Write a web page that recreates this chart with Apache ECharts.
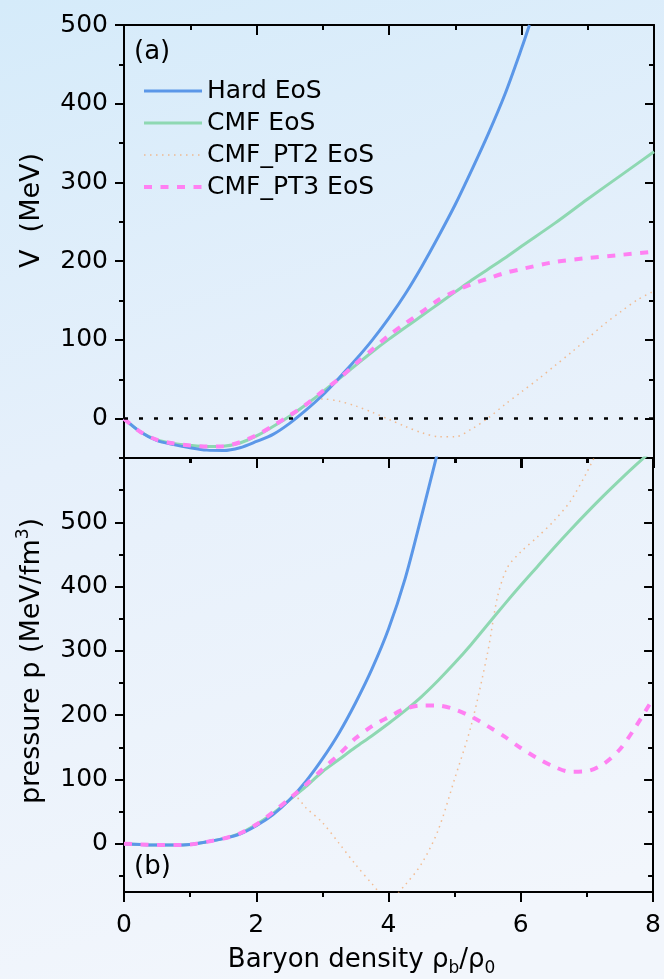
<!DOCTYPE html>
<html>
<head>
<meta charset="utf-8">
<script src="https://cdn.jsdelivr.net/npm/echarts@6.0.0/dist/echarts.min.js"></script>
<style>html,body{margin:0;padding:0;background:#e8f1fb;}#c{width:664px;height:979px;}</style>
</head>
<body>
<div id="c"></div>
<script>
// ---------- data ----------
const seriesNames = ['Hard EoS', 'CMF EoS', 'CMF_PT2 EoS', 'CMF_PT3 EoS'];
const xTickValues = [0, 2, 4, 6, 8];
const vMajorTicks = [0, 100, 200, 300, 400, 500];
const vMinorTicks = [-50, 50, 150, 250, 350, 450];
const pMajorTicks = [0, 100, 200, 300, 400, 500];
const pMinorTicks = [-50, 50, 150, 250, 350, 450, 550];

// panel (a): V (MeV)
const xHardV = [0,0.25,0.5,0.75,1,1.25,1.5,1.75,2,2.25,2.5,2.75,3,3.25,3.5,3.75,4,4.25,4.5,4.75,5,5.25,5.5,5.75,6,6.12];
const hardV  = [0,-17,-28,-33,-37,-40,-40.5,-37,-29,-20,-6,11,30,52,75,100,128,159,194,232,272,316,362,412,470,500];
const xCmfV  = [0,0.25,0.5,0.75,1,1.25,1.5,1.75,2,2.25,2.5,2.75,3,3.25,3.5,3.75,4,4.25,4.5,4.75,5,5.25,5.5,5.75,6,6.5,7,7.5,8];
const cmfV   = [0,-17,-27,-31.5,-34,-35.5,-35,-31,-22,-10,3,18,34,51,68,85,101,116,131,146,161,176,190,204,219,248,279,309,339];
const xPt3V  = [0,0.25,0.5,0.75,1,1.25,1.5,1.75,2,2.25,2.5,2.75,3,3.25,3.5,3.75,4,4.25,4.5,4.75,5,5.25,5.5,5.75,6,6.5,7,7.5,8];
const pt3V   = [0,-17,-27,-31.5,-34,-35.5,-35,-30,-21,-9,4,18,35,51,70,88,106,121,136,151,162,171,178,185,190,199,204,208,212];
const xPt2V  = [0,0.25,0.5,0.75,1,1.25,1.5,1.75,2,2.25,2.5,2.75,3,3.25,3.5,3.75,4,4.25,4.5,4.75,5,5.25,5.5,5.75,6,6.25,6.5,6.75,7,7.25,7.5,7.75,8];
const pt2V   = [0,-17,-27,-31.5,-34,-35.5,-35,-31,-22,-10,3,17,25,22,16,8,-1,-10,-18,-23,-23,-13,1,18,34,50,67,84,102,120,136,151,162];

// panel (b): pressure p (MeV/fm^3)
const xHardP = [0,0.25,0.5,0.75,1,1.25,1.5,1.75,2,2.25,2.5,2.75,3,3.25,3.5,3.75,4,4.25,4.5,4.75];
const hardP  = [0,-1,-2,-2,-1,3,8,15,28,45,68,97,132,172,219,272,334,412,510,612];
const xCmfP  = [0,0.25,0.5,0.75,1,1.25,1.5,1.75,2,2.25,2.5,2.75,3,3.25,3.5,3.75,4,4.25,4.5,4.75,5,5.25,5.5,5.75,6,6.25,6.5,6.75,7,7.25,7.5,7.75,8];
const cmfP   = [0,-1,-2,-2,-1,3,8,16,30,47,68,89,112,131,150,168,187,207,229,254,281,310,341,372,402,431,460,488,515,541,566,590,613];
const xPt3P  = [0,0.25,0.5,0.75,1,1.25,1.5,1.75,2,2.25,2.5,2.75,3,3.25,3.5,3.75,4,4.25,4.5,4.75,5,5.25,5.5,5.75,6,6.25,6.5,6.75,7,7.25,7.5,7.75,8];
const pt3P   = [0,-1,-2,-2,-1,3,8,16,30,49,70,92,116,139,164,183,197,210,215,215,209,198,183,167,149,133,120,112,113,124,147,184,226];
const xPt2P  = [0,0.25,0.5,0.75,1,1.25,1.5,1.75,2,2.25,2.5,2.6,2.75,3,3.25,3.5,3.75,4,4.25,4.5,4.75,5,5.25,5.5,5.65,5.8,6,6.25,6.5,6.75,7,7.2];
const pt2P   = [0,-1,-2,-2,-1,3,8,16,30,47,68,72,56,33,1,-32,-62,-88,-64,-31,21,101,184,298,385,430,454,477,502,533,578,620];

// ---------- styles ----------
const FONT = 'DejaVu Sans';
const colors = ['#5B97E8', '#8ED8B2', 'rgba(243,168,110,0.75)', '#FF80F2'];
const lineStyles = [
  {color: colors[0], width: 3, type: 'solid'},
  {color: colors[1], width: 3, type: 'solid'},
  {color: colors[2], width: 1.5, type: [1.5, 4.5]},
  {color: colors[3], width: 4, type: [8, 8.5]}
];
const AX = {color: '#000', width: 2};
const zip = (xs, ys) => xs.map((x, i) => [x, ys[i]]);

function xAx(grid, pos, showLabel, extra) {
  return Object.assign({
    type: 'value', gridIndex: grid, position: pos, min: 0, max: 8, interval: 2,
    axisLine: {show: true, onZero: false, lineStyle: AX},
    axisTick: {show: true, inside: pos === 'top', length: 10, lineStyle: AX},
    minorTick: {show: true, splitNumber: 2, length: 5, lineStyle: AX},
    axisLabel: {show: showLabel, margin: 21, color: '#000', fontSize: 25, fontFamily: FONT},
    splitLine: {show: false}, minorSplitLine: {show: false}
  }, extra || {});
}
function yMain(grid, pos, min, max, majors, showLabel, extra) {
  return Object.assign({
    type: 'value', gridIndex: grid, position: pos, min: min, max: max,
    axisLine: {show: true, onZero: false, lineStyle: AX},
    axisTick: {show: true, inside: pos === 'right', length: 9, customValues: majors, lineStyle: AX},
    axisLabel: {show: showLabel, customValues: majors, margin: 16, color: '#000', fontSize: 25, fontFamily: FONT},
    splitLine: {show: false}
  }, extra || {});
}
function yMinor(grid, pos, min, max, minors) {
  return {
    type: 'value', gridIndex: grid, position: pos, min: min, max: max,
    axisLine: {show: false, onZero: false},
    axisTick: {show: true, inside: pos === 'right', length: 5, customValues: minors, lineStyle: AX},
    axisLabel: {show: false}, splitLine: {show: false}
  };
}
function line(idx, xs, ys, xi, yi, extra) {
  return Object.assign({
    type: 'line', name: seriesNames[idx], xAxisIndex: xi, yAxisIndex: yi,
    data: zip(xs, ys), showSymbol: false, symbol: 'none', smooth: 0.3,
    lineStyle: lineStyles[idx], itemStyle: {color: lineStyles[idx].color},
    z: [3, 2, 1, 4][idx], clip: true
  }, extra || {});
}

const option = {
  animation: false,
  backgroundColor: {
    type: 'linear', x: 0, y: 0, x2: 0.45, y2: 1,
    colorStops: [
      {offset: 0, color: '#D5EBFA'},
      {offset: 0.45, color: '#E6F0FB'},
      {offset: 1, color: '#F2F6FC'}
    ]
  },
  textStyle: {fontFamily: FONT},
  title: [
    {text: '(a)', left: 134, top: 39, padding: 0, textStyle: {fontSize: 26, fontWeight: 'normal', color: '#000', fontFamily: FONT}},
    {text: '(b)', left: 134, top: 854, padding: 0, textStyle: {fontSize: 26, fontWeight: 'normal', color: '#000', fontFamily: FONT}}
  ],
  legend: {
    orient: 'vertical', left: 137, top: 73, itemWidth: 58, itemHeight: 12, itemGap: 6,
    selectedMode: false,
    data: seriesNames.map((n, i) => ({
      name: n, itemStyle: {opacity: 0},
      lineStyle: {color: lineStyles[i].color, width: lineStyles[i].width, type: lineStyles[i].type}
    })),
    textStyle: {fontFamily: FONT, fontSize: 25, color: '#000', lineHeight: 26}
  },
  grid: [
    {left: 124, right: 10, top: 25, height: 433},
    {left: 124, right: 10, top: 458, height: 434}
  ],
  xAxis: [
    xAx(0, 'bottom', false),
    xAx(0, 'top', false),
    xAx(1, 'bottom', true, {
      name: 'Baryon density ρ{sub|b}/ρ{sub|0}', nameLocation: 'middle', nameGap: 51,
      nameTextStyle: {fontFamily: FONT, fontSize: 26, color: '#000', lineHeight: 34, padding: [0, 54, 0, 0],
        rich: {sub: {fontFamily: FONT, fontSize: 17, color: '#000', lineHeight: 16, verticalAlign: 'bottom'}}}
    }),
    xAx(1, 'top', false)
  ],
  yAxis: [
    yMain(0, 'left', -50, 500, vMajorTicks, true, {
      name: 'V  (MeV)', nameLocation: 'middle', nameGap: 67,
      nameTextStyle: {fontFamily: FONT, fontSize: 27, color: '#000', lineHeight: 34, padding: [0, 0, 0, 62]}
    }),
    yMinor(0, 'left', -50, 500, vMinorTicks),
    yMain(0, 'right', -50, 500, vMajorTicks, false),
    yMinor(0, 'right', -50, 500, vMinorTicks),
    yMain(1, 'left', -75, 600, pMajorTicks, true, {
      name: 'pressure p (MeV/fm{sup|3})', nameLocation: 'middle', nameGap: 72,
      nameTextStyle: {fontFamily: FONT, fontSize: 27, color: '#000', lineHeight: 34, padding: [0, 0, 0, 28],
        rich: {sup: {fontFamily: FONT, fontSize: 17, color: '#000', lineHeight: 16, verticalAlign: 'top'}}}
    }),
    yMinor(1, 'left', -75, 600, pMinorTicks),
    yMain(1, 'right', -75, 600, pMajorTicks, false),
    yMinor(1, 'right', -75, 600, pMinorTicks)
  ],
  series: [
    line(0, xHardV, hardV, 0, 0, {
      markLine: {silent: true, symbol: 'none', label: {show: false},
        lineStyle: {color: '#000', width: 2.5, type: [4, 11]}, data: [{yAxis: 0}]}
    }),
    line(1, xCmfV, cmfV, 0, 0),
    line(2, xPt2V, pt2V, 0, 0),
    line(3, xPt3V, pt3V, 0, 0),
    line(0, xHardP, hardP, 2, 4),
    line(1, xCmfP, cmfP, 2, 4),
    line(2, xPt2P, pt2P, 2, 4),
    line(3, xPt3P, pt3P, 2, 4)
  ]
};
const chart = echarts.init(document.getElementById('c'), null, {renderer: 'canvas'});
chart.setOption(option);
</script>
</body>
</html>
